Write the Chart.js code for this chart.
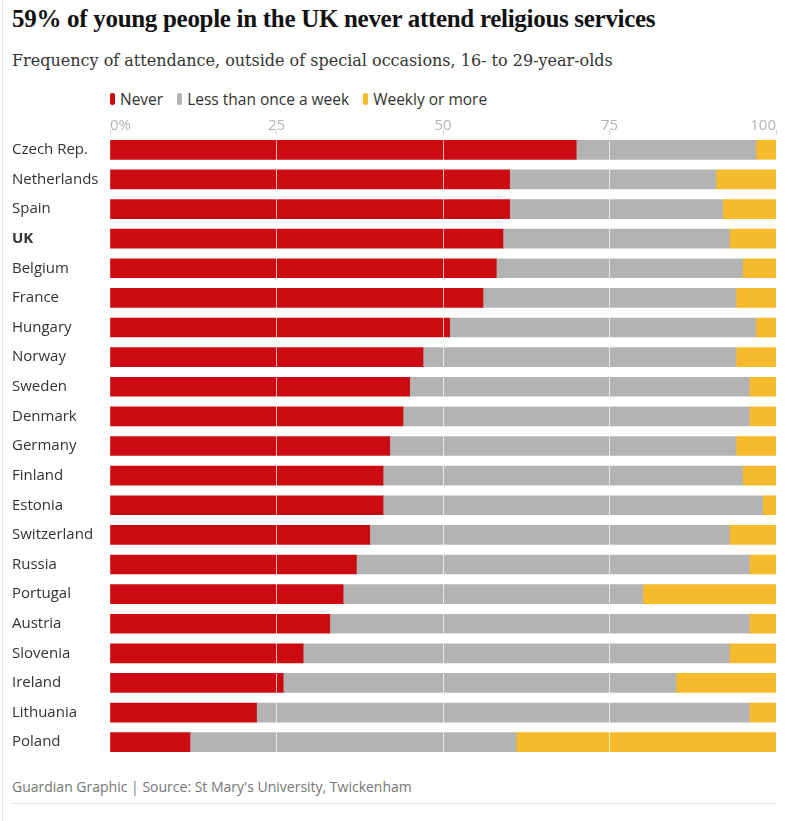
<!DOCTYPE html>
<html>
<head>
<meta charset="utf-8">
<script src="https://cdn.jsdelivr.net/npm/chart.js@4.4.1/dist/chart.umd.min.js"></script>
<style>
    body { margin: 0; background: #fff; }
    #wrap { position: relative; width: 800px; height: 821px; background: #fff; overflow: hidden; }
    #edge { position: absolute; left: 2px; top: 0; width: 1px; height: 821px; background: #e6e6e6; }
    #titulo { position: absolute; left: 12px; top: 5px; font: bold 25px "Liberation Serif", serif; color: #121212; letter-spacing: -0.3px; }
    #subtitulo { position: absolute; left: 12px; top: 51px; font: 16px "DejaVu Serif", serif; color: #333; }
    #legenda { position: absolute; left: 110px; top: 88px; font: 15.5px "Open Sans", sans-serif; color: #333; display: flex; }
    #legenda span.item { display: flex; align-items: center; margin-right: 14px; }
    #legenda span.cor { display: inline-block; width: 5px; height: 12px; border-radius: 2px; margin-right: 5px; }
    #grafico { position: absolute; left: 0; top: 111px; width: 800px; height: 658px; }
    #fonte { position: absolute; left: 12px; top: 777px; font: 14px "Open Sans", sans-serif; color: #767676; }
    #linha { position: absolute; left: 12px; top: 803px; width: 764px; height: 1px; background: #e3e3e3; }
</style>
</head>
<body>
<div id="wrap">
    <div id="edge"></div>
    <div id="titulo">59% of young people in the UK never attend religious services</div>
    <div id="subtitulo">Frequency of attendance, outside of special occasions, 16- to 29-year-olds</div>
    <div id="legenda"></div>
    <div id="grafico"><canvas id="graf_frequencia"></canvas></div>
    <div id="fonte">Guardian Graphic | Source: St Mary's University, Twickenham</div>
    <div id="linha"></div>
</div>
<script>
const paises = ['Czech Rep.', 'Netherlands', 'Spain', 'UK', 'Belgium', 'France', 'Hungary', 'Norway', 'Sweden', 'Denmark',
    'Germany', 'Finland', 'Estonia', 'Switzerland', 'Russia', 'Portugal', 'Austria', 'Slovenia', 'Ireland', 'Lithuania', 'Poland']
const nunca = [70, 60, 60, 59, 58, 56, 51, 47, 45, 44, 42, 41, 41, 39, 37, 35, 33, 29, 26, 22, 12]
const menosSemanal = [27, 31, 32, 34, 37, 38, 46, 47, 51, 52, 52, 54, 57, 54, 59, 45, 63, 64, 59, 74, 49]
const semanal = [3, 9, 8, 7, 5, 6, 3, 6, 4, 4, 6, 5, 2, 7, 4, 20, 4, 7, 15, 4, 39]
const series = ['Never', 'Less than once a week', 'Weekly or more']
const cores = ['#cc0a11', '#b3b3b3', '#f5bb2c']
const ticksX = [0, 25, 50, 75, 100]

// legenda feita a partir das series
const legenda = document.getElementById('legenda')
series.forEach((nome, i) => {
    legenda.innerHTML += '<span class="item"><span class="cor" style="background:' + cores[i] + '"></span>' + nome + '</span>'
})

const valores = [nunca, menosSemanal, semanal]

const ctx = document.getElementById('graf_frequencia').getContext('2d');
const chart = new Chart(ctx, {
    type: 'bar',
    data: {
        labels: paises,
        datasets: series.map((nome, i) => ({
            label: nome,
            data: valores[i],
            backgroundColor: cores[i],
            borderWidth: 0,
            barThickness: 19
        }))
    },
    options: {
        indexAxis: 'y',
        responsive: true,
        maintainAspectRatio: false,
        animation: false,
        layout: { padding: { left: 12, right: 24, top: 0, bottom: 0 } },
        plugins: {
            legend: { display: false },
            tooltip: { enabled: false }
        },
        scales: {
            x: {
                stacked: true,
                position: 'top',
                min: 0,
                max: 100,
                afterBuildTicks: (scale) => { scale.ticks = ticksX.map(v => ({ value: v })) },
                afterFit: (scale) => { scale.height = 24 },
                border: { display: false },
                grid: {
                    z: 1, // grade por cima das barras
                    color: (c) => (c.tick && (c.tick.value === 0 || c.tick.value === 100)) ? 'rgba(0,0,0,0)' : 'rgba(255,255,255,0.7)',
                    tickColor: '#d6d6d6',
                    tickLength: 5,
                    lineWidth: 1
                },
                ticks: {
                    align: 'inner',
                    padding: -5,
                    color: '#b5b5b5',
                    font: { family: 'Open Sans', size: 15 },
                    callback: (v) => v === 0 ? '0%' : v
                }
            },
            y: {
                stacked: true,
                afterFit: (scale) => { scale.width = 98 },
                border: { display: false },
                grid: { display: false },
                ticks: {
                    crossAlign: 'far',
                    color: '#333',
                    font: (c) => ({ family: 'Open Sans', size: 15, weight: (c.tick && c.tick.label === 'UK') ? 'bold' : 'normal' })
                }
            }
        }
    }
})
</script>
</body>
</html>
